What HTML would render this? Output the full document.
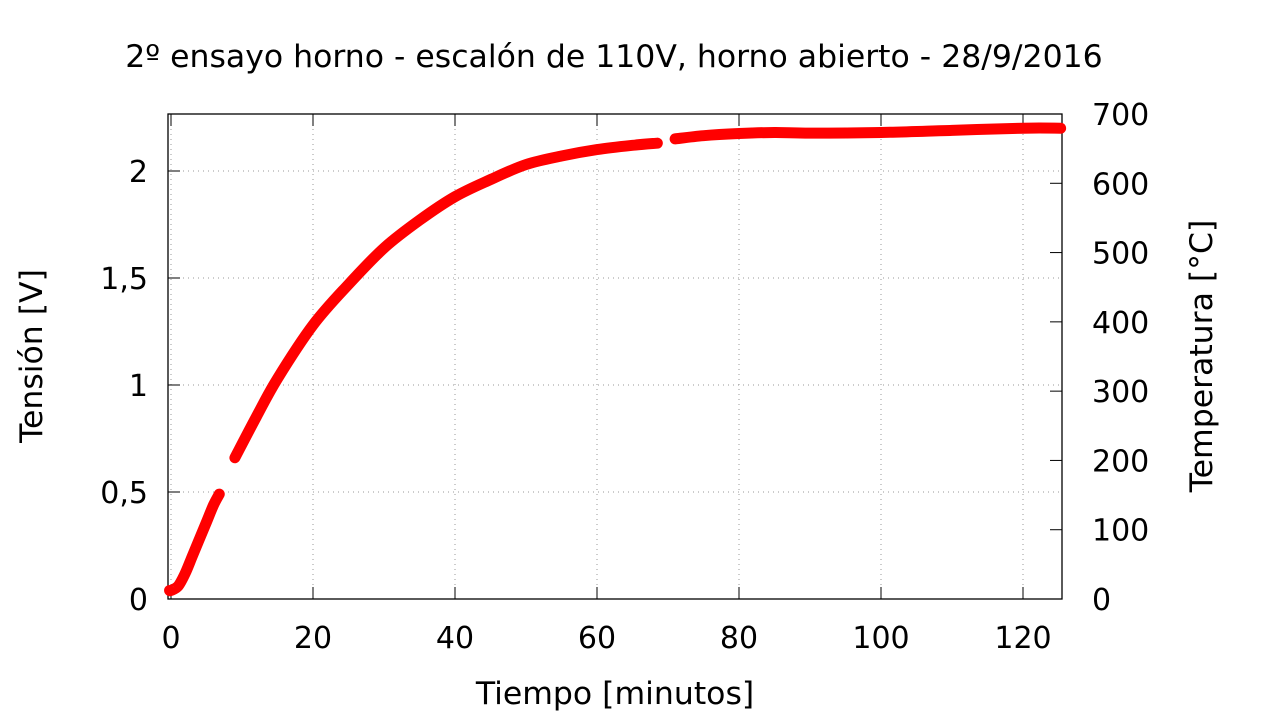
<!DOCTYPE html>
<html><head><meta charset="utf-8"><style>
body{margin:0;background:#fff}
svg text{font-family:"DejaVu Sans","Liberation Sans",sans-serif;fill:#000}
</style></head><body>
<svg id="c" width="1280" height="720" xmlns="http://www.w3.org/2000/svg">
<text x="614" y="67" font-size="31.5" text-anchor="middle">2º ensayo horno - escalón de 110V, horno abierto - 28/9/2016</text>
<g id="grid"></g><g id="axes"></g><g id="series"></g>
<text x="615" y="704" font-size="31.5" text-anchor="middle">Tiempo [minutos]</text>
<text transform="translate(42,356) rotate(-90)" font-size="31.5" text-anchor="middle">Tensión [V]</text>
<text transform="translate(1212,356) rotate(-90)" font-size="31.5" text-anchor="middle">Temperatura [°C]</text>
</svg>
<script>
const xTicks=[0,20,40,60,80,100,120];
const yTicks=[0,0.5,1,1.5,2];
const yTickLabels=["0","0,5","1","1,5","2"];
const y2Ticks=[0,100,200,300,400,500,600,700];
const seg1T=[-0.2,0,1,2,3,4,5,6,6.8];
const seg1V=[0.04,0.04,0.06,0.12,0.2,0.28,0.36,0.44,0.49];
const seg2T=[9,12,15,20,25,30,35,40,45,50,55,60,65,68.5];
const seg2V=[0.66,0.85,1.03,1.28,1.47,1.64,1.77,1.88,1.96,2.03,2.07,2.10,2.12,2.13];
const seg3T=[71,75,80,85,90,100,110,120,125.3];
const seg3V=[2.15,2.165,2.175,2.18,2.177,2.18,2.19,2.2,2.2];
const L=168,R=1062,T=114,B=599;
const xs=t=>171+t*7.1;
const ys=v=>599-v*214;
const y2s=v=>599-v*485/700;
const NS="http://www.w3.org/2000/svg";
function mk(tag,at,parent){const e=document.createElementNS(NS,tag);for(const k in at)e.setAttribute(k,at[k]);document.getElementById(parent).appendChild(e);return e;}
xTicks.forEach(t=>{
 const x=xs(t);
 const g=mk('line',{x1:x,x2:x,y1:T,y2:B,stroke:'#999','stroke-dasharray':'1,4','stroke-width':1},'grid');
 
 
 mk('line',{x1:x,x2:x,y1:B,y2:B-12,stroke:'#000'},'axes');
 mk('line',{x1:x,x2:x,y1:T,y2:T+12,stroke:'#000'},'axes');
 const tx=mk('text',{x:x,y:B+49,'font-size':30,'text-anchor':'middle'},'axes');
 tx.textContent=t;
 
 
});
yTicks.forEach((v,i)=>{
 const y=ys(v);
 const g=mk('line',{x1:L,x2:R,y1:y,y2:y,stroke:'#999','stroke-dasharray':'1,4','stroke-width':1},'grid');
 
 
 mk('line',{x1:L,x2:L+12,y1:y,y2:y,stroke:'#000'},'axes');
 const tx=mk('text',{x:L-20,y:y+11,'font-size':30,'text-anchor':'end'},'axes');
 tx.textContent=yTickLabels[i];
 
 
});
y2Ticks.forEach(v=>{
 const y=y2s(v);
 mk('line',{x1:R,x2:R-12,y1:y,y2:y,stroke:'#000'},'axes');
 const tx=mk('text',{x:R+30,y:y+11,'font-size':30,'text-anchor':'start'},'axes');
 tx.textContent=v;
 
 
});
const fr=mk('rect',{x:L,y:T,width:R-L,height:B-T,fill:'none',stroke:'#000','stroke-width':1.3},'axes');


function smooth(P){
 let d='M'+P[0][0]+','+P[0][1];
 for(let i=0;i<P.length-1;i++){
  const p0=P[Math.max(i-1,0)],p1=P[i],p2=P[i+1],p3=P[Math.min(i+2,P.length-1)];
  const c1=[p1[0]+(p2[0]-p0[0])/6,p1[1]+(p2[1]-p0[1])/6];
  const c2=[p2[0]-(p3[0]-p1[0])/6,p2[1]-(p3[1]-p1[1])/6];
  d+=' C'+c1+' '+c2+' '+p2;
 }
 return d;
}
[[seg1T,seg1V],[seg2T,seg2V],[seg3T,seg3V]].forEach(([tt,vv])=>{
 const P=tt.map((t,i)=>[xs(t),ys(vv[i])]);
 const p=mk('path',{d:smooth(P),fill:'none',stroke:'#ff0000','stroke-width':11,'stroke-linecap':'round','stroke-linejoin':'round'},'series');
 
 
});
</script>
</body></html>
